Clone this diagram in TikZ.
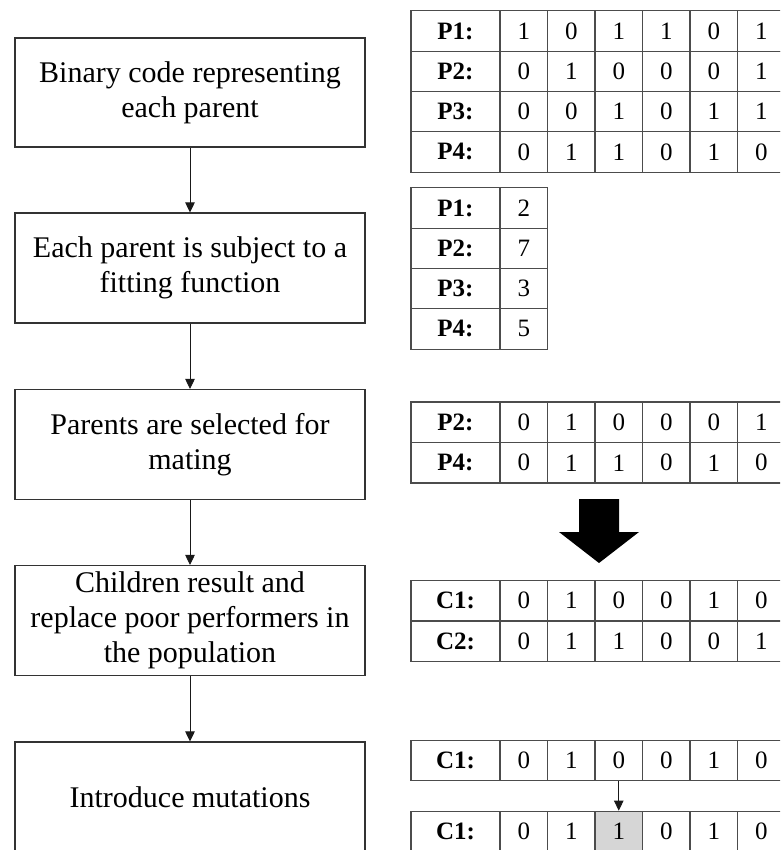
\documentclass[tikz,border=0pt]{standalone}
\usepackage{fontspec}
\setmainfont{Liberation Serif}
\usetikzlibrary{arrows.meta}
\newcommand{\brow}[4]{%
  \node[lab] (#1-0) at (455.5,#2) {#3};
  \foreach \v [count=\i] in {#4} {\node[cell] (#1-\i) at ({500+47.5*(\i-0.5)},#2) {\v};}
}
\begin{document}
\begin{tikzpicture}[x=1pt,y=-1pt,
  stepbox/.style={draw=black!80, line width=1.1pt, minimum width=350pt, minimum height=110pt,
    inner sep=0pt, align=center, font=\fontsize{30}{35}\selectfont},
  cell/.style={draw=black!70, line width=1.2pt, minimum width=47.5pt, minimum height=40.5pt,
    inner sep=0pt, font=\fontsize{25}{25}\selectfont},
  lab/.style={cell, minimum width=89pt, font=\fontsize{25}{25}\selectfont\bfseries},
  flow/.style={-{Triangle[width=9.5pt,length=10pt]}, line width=0.9pt, draw=black!90}]
\useasboundingbox (0,0) rectangle (780,850);
\clip (0,0) rectangle (780,850);

% flowchart boxes
\node[stepbox, minimum height=109pt] (b1) at (190,92.5) {Binary code representing\\each parent};
\node[stepbox] (b2) at (190,268) {Each parent is subject to a\\fitting function};
\node[stepbox] (b3) at (190,444.5) {Parents are selected for\\mating};
\node[stepbox] (b4) at (190,620.5) {Children result and\\replace poor performers in\\the population};
\node[stepbox] (b5) at (190,797) {Introduce mutations};
\draw[flow] (b1) -- (b2);
\draw[flow] (b2) -- (b3);
\draw[flow] (b3) -- (b4);
\draw[flow] (b4) -- (b5);

% table 1: binary codes
\brow{pa}{31.1}{P1:}{1,0,1,1,0,1}
\brow{pb}{71.4}{P2:}{0,1,0,0,0,1}
\brow{pc}{111.6}{P3:}{0,0,1,0,1,1}
\brow{pd}{151.9}{P4:}{0,1,1,0,1,0}

% table 2: fitness
\brow{fa}{208.1}{P1:}{2}
\brow{fb}{248.4}{P2:}{7}
\brow{fc}{288.6}{P3:}{3}
\brow{fd}{328.9}{P4:}{5}

% table 3: selected parents
\brow{sa}{422.25}{P2:}{0,1,0,0,0,1}
\brow{sb}{462.75}{P4:}{0,1,1,0,1,0}

% block arrow
\fill[black] (579,499) -- (619,499) -- (619,532) -- (639,532) -- (599,563)
  -- (559,532) -- (579,532) -- cycle;

% table 4: children
\brow{ca}{600.5}{C1:}{0,1,0,0,1,0}
\brow{cb}{641.5}{C2:}{0,1,1,0,0,1}

% table 5: before mutation
\brow{ma}{760.5}{C1:}{0,1,0,0,1,0}

% table 6: after mutation
\node[lab] (mb-0) at (455.5,831.5) {C1:};
\node[cell] (mb-1) at (523.75,831.5) {0};
\node[cell] (mb-2) at (571.25,831.5) {1};
\node[cell, fill=black!16] (mb-3) at (618.75,831.5) {1};
\node[cell] (mb-4) at (666.25,831.5) {0};
\node[cell] (mb-5) at (713.75,831.5) {1};
\node[cell] (mb-6) at (761.25,831.5) {0};
\draw[flow] (ma-3.south) -- (mb-3.north);
\end{tikzpicture}
\end{document}
